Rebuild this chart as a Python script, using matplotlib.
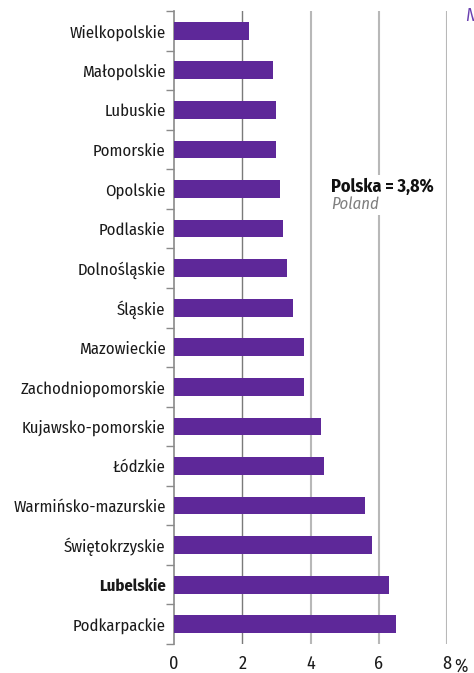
import matplotlib.pyplot as plt
import numpy as np

regions = ["Wielkopolskie", "Małopolskie", "Lubuskie", "Pomorskie", "Opolskie",
           "Podlaskie", "Dolnośląskie", "Śląskie", "Mazowieckie",
           "Zachodniopomorskie", "Kujawsko-pomorskie", "Łódzkie",
           "Warmińsko-mazurskie", "Świętokrzyskie", "Lubelskie", "Podkarpackie"]
values = [2.2, 2.9, 3.0, 3.0, 3.1, 3.2, 3.3, 3.5, 3.8, 3.8, 4.3, 4.4, 5.6, 5.8, 6.3, 6.5]
xticks = [0, 2, 4, 6, 8]
xtick_labels = ["0", "2", "4", "6", "8"]
highlight = "Lubelskie"

purple = "#5e2899"
plt.rcParams['font.family'] = ["Fira Sans Condensed", "DejaVu Sans"]

fig = plt.figure(figsize=(4.74, 6.73), dpi=100)
ax = fig.add_axes([174 / 474, 1 - 644 / 673, (447 - 174) / 474, (644 - 11) / 673])

ypos = np.arange(len(regions))
ax.barh(ypos, values, height=0.45, color=purple, zorder=3)

ax.set_xlim(0, 8)
ax.set_ylim(len(regions) - 0.5, -0.5)

# vertical grid lines
for x in xticks[1:]:
    if x == 2:
        ax.axvline(x, color="#7a7a7a", lw=1.0, zorder=1)
    else:
        ax.axvline(x, color="#b8b8b8", lw=1.5, zorder=1)

ax.set_yticks(ypos)
ax.set_yticklabels(regions, fontsize=12, color="#1a1a1a")
for lbl in ax.get_yticklabels():
    if lbl.get_text() == highlight:
        lbl.set_fontweight("bold")
ax.set_yticks(np.arange(-0.5, len(regions)), minor=True)
ax.tick_params(axis="y", which="major", length=0, pad=6)
ax.tick_params(axis="y", which="minor", length=6, color="#8a8a8a", width=1)

ax.set_xticks(xticks)
ax.set_xticklabels(xtick_labels, fontsize=13, color="#1a1a1a")
ax.tick_params(axis="x", length=0, pad=8)
ax.text(8.2, 16.06, "%", fontsize=13, color="#1a1a1a", ha="left", va="center",
        clip_on=False)

for side in ["top", "right", "bottom"]:
    ax.spines[side].set_visible(False)
ax.spines["left"].set_color("#8a8a8a")
ax.spines["left"].set_linewidth(1.2)

ax.text(4.6, 3.95, "Polska = 3,8%", fontsize=13, fontweight="bold", color="#111111",
        ha="left", va="center", zorder=4,
        bbox=dict(facecolor="white", edgecolor="none", pad=2))
ax.text(4.62, 4.38, "Poland", fontsize=12, style="italic", color="#7f7f7f",
        ha="left", va="center", zorder=4,
        bbox=dict(facecolor="white", edgecolor="none", pad=2))

fig.text(0.982, 0.99, "N", fontsize=13, style="italic", color="#6a3fb0",
         ha="left", va="top")

fig.savefig("out.png", dpi=100)
